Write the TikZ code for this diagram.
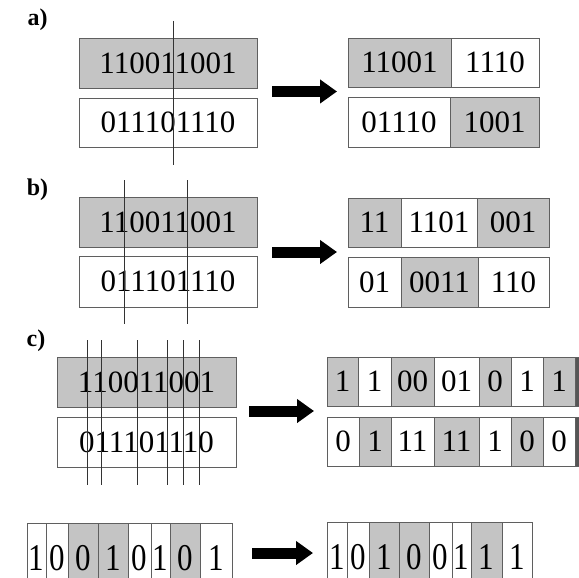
\documentclass[tikz,border=0pt]{standalone}
\usepackage{fontspec}
\setmainfont{Liberation Serif}
\usetikzlibrary{arrows.meta}
\definecolor{cellgray}{RGB}{196,196,196}
\definecolor{edgegray}{RGB}{95,95,95}
\definecolor{darkstrip}{RGB}{85,85,85}
\newcommand{\mycell}[7]{%
  \node[#1, minimum width={(#4-#3)*1pt}, minimum height={(#6-#5)*1pt}] (#2) at ({(#3+#4)/2},{(#5+#6)/2}) {#7};}
\newcommand{\mytall}[7]{%
  \node[#1, minimum width={(#4-#3)*1pt}, minimum height={(#6-#5)*1pt}] (#2) at ({(#3+#4)/2},{(#5+#6)/2}) {\scalebox{1}[1.22]{#7}};}
\begin{document}
\begin{tikzpicture}[x=1pt,y=-1pt,
  box/.style={draw=edgegray, line width=0.9pt, inner sep=0pt, font=\fontsize{31}{31}\selectfont},
  gbox/.style={box, fill=cellgray},
  wbox/.style={box, fill=white},
  dbox/.style={box, fill=darkstrip},
  cutline/.style={draw=black!80, line width=0.9pt},
  bigarrow/.style={line width=11pt, -{Triangle[length=17pt,width=23pt]}},
  lab/.style={font=\fontsize{24}{24}\selectfont\bfseries, inner sep=0pt}]
\useasboundingbox (0,0) rectangle (579,578);
\clip (0,0) rectangle (579,578);
\fill[white] (0,0) rectangle (579,578);

% ---------- a ----------
\node[lab] (labA) at (37.5,20) {a)};
\mycell{gbox}{aLt}{79}{257}{38}{88}{110011001}
\mycell{wbox}{aLb}{79}{257}{98}{147}{011101110}
\draw[cutline] (173,21) -- (173,165);
\mycell{gbox}{aRt1}{348}{451}{38}{87}{11001}
\mycell{wbox}{aRt2}{451}{539}{38}{87}{1110}
\mycell{wbox}{aRb1}{348}{450}{97}{147}{01110}
\mycell{gbox}{aRb2}{450}{539}{97}{147}{1001}
\coordinate (aA1) at (272,91.5);
\coordinate (aA2) at (337,91.5);
\draw[bigarrow] (aA1) -- (aA2);

% ---------- b ----------
\node[lab] (labB) at (37.5,190) {b)};
\mycell{gbox}{bLt}{79}{257}{197}{247}{110011001}
\mycell{wbox}{bLb}{79}{257}{256}{307}{011101110}
\draw[cutline] (124,180) -- (124,324);
\draw[cutline] (187,180) -- (187,324);
\mycell{gbox}{bRt1}{348}{401}{198}{247}{11}
\mycell{wbox}{bRt2}{401}{477}{198}{247}{1101}
\mycell{gbox}{bRt3}{477}{549}{198}{247}{001}
\mycell{wbox}{bRb1}{348}{401}{257}{307}{01}
\mycell{gbox}{bRb2}{401}{478}{257}{307}{0011}
\mycell{wbox}{bRb3}{478}{549}{257}{307}{110}
\coordinate (bA1) at (272,252);
\coordinate (bA2) at (337,252);
\draw[bigarrow] (bA1) -- (bA2);

% ---------- c ----------
\node[lab] (labC) at (36,341) {c)};
\mycell{gbox}{cLt}{57}{236}{357}{407}{110011001}
\mycell{wbox}{cLb}{57}{236}{417}{467}{011101110}
\foreach \xx in {87,101,137,167,183,199}
  \draw[cutline] (\xx,340) -- (\xx,485);
\mycell{gbox}{cRt1}{327}{358}{357}{406}{1}
\mycell{wbox}{cRt2}{358}{391}{357}{406}{1}
\mycell{gbox}{cRt3}{391}{434}{357}{406}{00}
\mycell{wbox}{cRt4}{434}{479}{357}{406}{01}
\mycell{gbox}{cRt5}{479}{511}{357}{406}{0}
\mycell{wbox}{cRt6}{511}{543}{357}{406}{1}
\mycell{gbox}{cRt7}{543}{575}{357}{406}{1}
\mycell{dbox}{cRt8}{575}{595}{357}{406}{}
\mycell{wbox}{cRb1}{327}{359}{417}{466}{0}
\mycell{gbox}{cRb2}{359}{391}{417}{466}{1}
\mycell{wbox}{cRb3}{391}{434}{417}{466}{11}
\mycell{gbox}{cRb4}{434}{479}{417}{466}{11}
\mycell{wbox}{cRb5}{479}{511}{417}{466}{1}
\mycell{gbox}{cRb6}{511}{543}{417}{466}{0}
\mycell{wbox}{cRb7}{543}{575}{417}{466}{0}
\mycell{dbox}{cRb8}{575}{595}{417}{466}{}
\coordinate (cA1) at (249,411);
\coordinate (cA2) at (314,411);
\draw[bigarrow] (cA1) -- (cA2);

% ---------- bottom ----------
\mytall{wbox}{dL1}{27}{46}{523}{593}{1}
\mytall{wbox}{dL2}{46}{68}{523}{593}{0}
\mytall{gbox}{dL3}{68}{98}{523}{593}{0}
\mytall{gbox}{dL4}{98}{128}{523}{593}{1}
\mytall{wbox}{dL5}{128}{151}{523}{593}{0}
\mytall{wbox}{dL6}{151}{170}{523}{593}{1}
\mytall{gbox}{dL7}{170}{200}{523}{593}{0}
\mytall{wbox}{dL8}{200}{232}{523}{593}{1}
\mytall{wbox}{dR1}{327}{347}{522}{593}{1}
\mytall{wbox}{dR2}{347}{369}{522}{593}{0}
\mytall{gbox}{dR3}{369}{399}{522}{593}{1}
\mytall{gbox}{dR4}{399}{429}{522}{593}{0}
\mytall{wbox}{dR5}{429}{452}{522}{593}{0}
\mytall{wbox}{dR6}{452}{471}{522}{593}{1}
\mytall{gbox}{dR7}{471}{502}{522}{593}{1}
\mytall{wbox}{dR8}{502}{532}{522}{593}{1}
\coordinate (dA1) at (252,553);
\coordinate (dA2) at (313,553);
\draw[bigarrow] (dA1) -- (dA2);
\end{tikzpicture}
\end{document}
